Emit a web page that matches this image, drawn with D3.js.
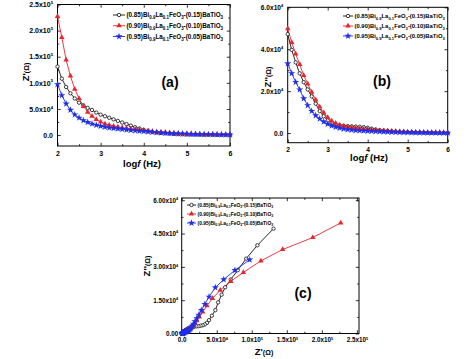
<!DOCTYPE html>
<html><head><meta charset="utf-8">
<script src="https://cdn.jsdelivr.net/npm/d3@7"></script>
<style>
body{margin:0;background:#fff}
svg{display:block}
text{font-family:"Liberation Sans",Arial,sans-serif;font-weight:bold;fill:#000}
</style>
</head><body><svg id="chart" width="474" height="359"></svg>
<script>
// ---------- data ----------
const logf = [2.0,2.1,2.2,2.3,2.4,2.5,2.6,2.7,2.8,2.9,3.0,3.1,3.2,3.3,3.4,3.5,3.6,3.7,3.8,3.9,4.0,
              4.1,4.2,4.3,4.4,4.5,4.6,4.7,4.8,4.9,5.0,5.1,5.2,5.3,5.4,5.5,5.6,5.7,5.8,5.9,6.0];
// Z' in units of 1e5 ohm
const zReal085 = [1.31,1.08,0.92,0.80,0.70,0.62,0.57,0.52,0.48,0.43,0.39,0.36,0.33,0.30,0.27,0.24,0.21,0.18,0.15,0.125,0.10,
                  0.08,0.06,0.048,0.04,0.033,0.027,0.022,0.018,0.015,0.012,0.01,0.008,0.007,0.006,0.005,0.004,0.003,0.003,0.002,0.002];
const zReal090 = [2.27,1.87,1.44,1.13,0.88,0.70,0.55,0.44,0.36,0.30,0.25,0.215,0.19,0.17,0.155,0.14,0.13,0.12,0.11,0.10,0.09,
                  0.08,0.07,0.062,0.055,0.048,0.042,0.037,0.032,0.028,0.025,0.022,0.019,0.017,0.015,0.013,0.011,0.010,0.009,0.008,0.007];
const zReal095 = [0.97,0.76,0.60,0.48,0.39,0.33,0.28,0.245,0.215,0.19,0.17,0.155,0.14,0.13,0.12,0.11,0.10,0.092,0.085,0.078,0.07,
                  0.063,0.056,0.05,0.044,0.039,0.034,0.03,0.026,0.023,0.02,0.018,0.016,0.014,0.012,0.011,0.01,0.009,0.008,0.007,0.006];
// Z'' in units of 1e4 ohm
const zImag085 = [4.72,3.97,3.37,2.85,2.43,2.08,1.75,1.40,1.05,0.80,0.60,0.48,0.41,0.37,0.35,0.33,0.32,0.31,0.30,0.28,0.25,
                  0.21,0.17,0.14,0.12,0.10,0.085,0.072,0.062,0.053,0.045,0.038,0.032,0.027,0.023,0.019,0.016,0.013,0.011,0.009,0.008];
const zImag090 = [4.98,4.32,3.78,3.27,2.75,2.35,1.95,1.58,1.25,0.97,0.75,0.58,0.47,0.39,0.33,0.29,0.26,0.23,0.21,0.19,0.17,
                  0.15,0.14,0.12,0.11,0.10,0.085,0.075,0.065,0.055,0.048,0.042,0.036,0.031,0.027,0.023,0.020,0.017,0.014,0.012,0.010];
const zImag095 = [3.32,2.85,2.43,2.07,1.65,1.32,1.05,0.84,0.68,0.54,0.43,0.35,0.29,0.24,0.20,0.17,0.15,0.13,0.12,0.11,0.10,
                  0.09,0.08,0.072,0.065,0.058,0.05,0.044,0.038,0.033,0.03,0.026,0.023,0.02,0.018,0.016,0.014,0.012,0.01,0.009,0.008];

// legend labels: [text, isSubscript]
const legendLabels = [
  [["(0.85)Bi",0],["0.9",1],["La",0],["0.1",1],["FeO",0],["3",1],["-(0.15)BaTiO",0],["3",1]],
  [["(0.90)Bi",0],["0.9",1],["La",0],["0.1",1],["FeO",0],["3",1],["-(0.10)BaTiO",0],["3",1]],
  [["(0.95)Bi",0],["0.9",1],["La",0],["0.1",1],["FeO",0],["3",1],["-(0.05)BaTiO",0],["3",1]]
];

// tick values and labels: [mantissa, exponent]
const logTicks = [2,3,4,5,6];
const logTickLabels = [["2",""],["3",""],["4",""],["5",""],["6",""]];
const aYTicks = [0,0.5,1.0,1.5,2.0,2.5];
const aYTickLabels = [["0.0",""],["5.0x10","4"],["1.0x10","5"],["1.5x10","5"],["2.0x10","5"],["2.5x10","5"]];
const bYTicks = [0,2,4,6];
const bYTickLabels = [["0.0",""],["2.0x10","4"],["4.0x10","4"],["6.0x10","4"]];
const cXTicks = [0,0.5,1.0,1.5,2.0,2.5];
const cXTickLabels = [["0.0",""],["5.0x10","4"],["1.0x10","5"],["1.5x10","5"],["2.0x10","5"],["2.5x10","5"]];
const cYTicks = [0,1.5,3.0,4.5,6.0];
const cYTickLabels = [["0.00",""],["1.50x10","4"],["3.00x10","4"],["4.50x10","4"],["6.00x10","4"]];

// ---------- styles ----------
const colors = ["#111111","#e8262f","#1f2fe8"];
const symbols = ["circle","triangle","star"];

const svg = d3.select("#chart");

function marker(sel, kind, color, s) {
  if (kind === "circle") {
    sel.append("circle").attr("r", 1.7*s).attr("fill","#fff").attr("stroke",color).attr("stroke-width",0.8);
  } else if (kind === "triangle") {
    sel.append("path").attr("d", d3.symbol(d3.symbolTriangle, 13*s*s)()).attr("fill",color);
  } else {
    sel.append("path").attr("d", d3.symbol(d3.symbolStar, 16*s*s)()).attr("fill",color);
  }
}

function fillSci(textSel, lab, fs) {
  textSel.text(null);
  textSel.append("tspan").text(lab[0]);
  if (lab[1]) textSel.append("tspan").attr("font-size", fs*0.6).attr("dy", -fs*0.45).text(lab[1]);
}

function drawPanel(p) {
  const g = svg.append("g");
  const x = d3.scaleLinear().domain(p.xDom).range([p.L, p.R]);
  const y = d3.scaleLinear().domain(p.yDom).range([p.B, p.T]);

  const styleAxis = a => { a.select(".domain").remove(); a.selectAll(".tick line").attr("stroke","#000").attr("stroke-width",0.8); };

  // minor ticks (all four sides)
  [[d3.axisBottom, p.B, "x"],[d3.axisTop, p.T, "x"],[d3.axisLeft, p.L, "y"],[d3.axisRight, p.R, "y"]].forEach(([fn,pos,ax])=>{
    const sc = ax==="x"? x : y;
    const vals = ax==="x"? p.xMinor : p.yMinor;
    const a = g.append("g").attr("transform", ax==="x" ? `translate(0,${pos})` : `translate(${pos},0)`)
      .call(fn(sc).tickValues(vals).tickSizeInner(-1.8).tickSizeOuter(0).tickFormat(()=>""));
    styleAxis(a);
  });

  // major ticks with labels bottom / left
  const ax = g.append("g").attr("transform",`translate(0,${p.B})`)
    .call(d3.axisBottom(x).tickValues(p.xTicks).tickSizeInner(-3.2).tickSizeOuter(0).tickPadding(p.xPad).tickFormat(()=>""));
  styleAxis(ax);
  ax.attr("font-family",null).attr("font-size",null);
  ax.selectAll(".tick text").attr("font-size",p.fsTick).attr("dy","0.71em").attr("y", p.xPad)
    .each(function(d,i){ fillSci(d3.select(this), p.xLabels[i], p.fsTick); });

  const ay = g.append("g").attr("transform",`translate(${p.L},0)`)
    .call(d3.axisLeft(y).tickValues(p.yTicks).tickSizeInner(-3.2).tickSizeOuter(0).tickPadding(p.yPad).tickFormat(()=>""));
  styleAxis(ay);
  ay.attr("font-family",null).attr("font-size",null);
  ay.selectAll(".tick text").attr("font-size",p.fsTick).attr("x", -p.yPad)
    .each(function(d,i){ fillSci(d3.select(this), p.yLabels[i], p.fsTick); });

  // mirrored major ticks top / right
  const at = g.append("g").attr("transform",`translate(0,${p.T})`)
    .call(d3.axisTop(x).tickValues(p.xTicks).tickSizeInner(-3.2).tickSizeOuter(0).tickFormat(()=>""));
  styleAxis(at);
  const ar = g.append("g").attr("transform",`translate(${p.R},0)`)
    .call(d3.axisRight(y).tickValues(p.yTicks).tickSizeInner(-3.2).tickSizeOuter(0).tickFormat(()=>""));
  styleAxis(ar);

  // frame
  g.append("rect").attr("x",p.L).attr("y",p.T).attr("width",p.R-p.L).attr("height",p.B-p.T)
    .attr("fill","none").attr("stroke","#000").attr("stroke-width",1);

  // series
  const line = d3.line().x(d=>x(d[0])).y(d=>y(d[1]));
  p.series.forEach((s,k)=>{
    const pts = s.xs.map((v,i)=>[v, s.ys[i]]);
    g.append("path").attr("d", line(pts)).attr("fill","none").attr("stroke",colors[k]).attr("stroke-width",0.9);
  });
  p.series.forEach((s,k)=>{
    const pts = s.xs.map((v,i)=>[v, s.ys[i]]);
    pts.forEach(d=>{
      const m = g.append("g").attr("transform",`translate(${x(d[0])},${y(d[1])})`);
      marker(m, symbols[k], colors[k], p.mScale);
    });
  });

  // legend
  legendLabels.forEach((parts,k)=>{
    const ly = p.legY[k];
    g.append("line").attr("x1",p.legX0).attr("x2",p.legX1).attr("y1",ly).attr("y2",ly)
      .attr("stroke",colors[k]).attr("stroke-width",0.9);
    const m = g.append("g").attr("transform",`translate(${(p.legX0+p.legX1)/2},${ly})`);
    marker(m, symbols[k], colors[k], p.mScale);
    const t = g.append("text").attr("x",p.legX1+1.5).attr("y",ly+p.fsLeg*0.35).attr("font-size",p.fsLeg);
    let shifted = false;
    parts.forEach(([str,sub])=>{
      if (sub) { t.append("tspan").attr("font-size",p.fsLeg*0.7).attr("dy", shifted ? 0 : p.fsLeg*0.3).text(str); shifted = true; }
      else { t.append("tspan").attr("dy", shifted ? -p.fsLeg*0.3 : 0).text(str); shifted = false; }
    });
  });

  // axis titles
  const xt = g.append("text").attr("x",p.xTitle[0]).attr("y",p.xTitle[1]).attr("text-anchor","middle").attr("font-size",p.fsTitle);
  p.xTitleParts.forEach(([s,st])=>{ const ts = xt.append("tspan").text(s); if(st==="i") ts.attr("font-style","italic"); if(st==="s") ts.attr("font-size",p.fsTitle*0.75); });
  const yt = g.append("text").attr("transform",`translate(${p.yTitle[0]},${p.yTitle[1]}) rotate(-90)`)
    .attr("text-anchor","middle").attr("font-size",p.fsTitle);
  p.yTitleParts.forEach(([s,st])=>{ const ts = yt.append("tspan").text(s); if(st==="s") ts.attr("font-size",p.fsTitle*0.75); });

  // panel label
  g.append("text").attr("x",p.tag[0]).attr("y",p.tag[1]).attr("text-anchor","middle")
    .attr("font-size",p.fsTag).text(p.tagText);
}

// (a) Z' vs log f
drawPanel({
  L:57.5, R:230, T:4.5, B:146, xDom:[2,6], yDom:[-0.21,2.5],
  xTicks:logTicks, xLabels:logTickLabels, yTicks:aYTicks, yLabels:aYTickLabels,
  xMinor:[2.5,3.5,4.5,5.5], yMinor:[0.25,0.75,1.25,1.75,2.25],
  xPad:5, yPad:4.5, fsTick:7,
  series:[{xs:logf,ys:zReal085},{xs:logf,ys:zReal090},{xs:logf,ys:zReal095}],
  mScale:1, legX0:113, legX1:125, legY:[15,25.7,36.5], fsLeg:6.3,
  xTitle:[142,167], xTitleParts:[["log",""],["f","i"],[" (Hz)",""]],
  yTitle:[29,72], yTitleParts:[["Z'",""],["(Ω)","s"]], fsTitle:9.5,
  tag:[170,87], tagText:"(a)", fsTag:14
});

// (b) Z'' vs log f
drawPanel({
  L:287.7, R:447.7, T:7.3, B:142.7, xDom:[2,6], yDom:[-0.46,6.0],
  xTicks:logTicks, xLabels:logTickLabels, yTicks:bYTicks, yLabels:bYTickLabels,
  xMinor:[2.5,3.5,4.5,5.5], yMinor:[1,3,5],
  xPad:4.5, yPad:4.5, fsTick:6.6,
  series:[{xs:logf,ys:zImag085},{xs:logf,ys:zImag090},{xs:logf,ys:zImag095}],
  mScale:1, legX0:343, legX1:353, legY:[16,26,36], fsLeg:5.9,
  xTitle:[369,161], xTitleParts:[["log",""],["f","i"],[" (Hz)",""]],
  yTitle:[271,77], yTitleParts:[["Z''",""],["(Ω)","s"]], fsTitle:9.5,
  tag:[382,86], tagText:"(b)", fsTag:14
});

// (c) Nyquist Z'' vs Z'
drawPanel({
  L:181.7, R:359, T:198, B:333.5, xDom:[0,2.53], yDom:[0,6.1],
  xTicks:cXTicks, xLabels:cXTickLabels, yTicks:cYTicks, yLabels:cYTickLabels,
  xMinor:[0.25,0.75,1.25,1.75,2.25], yMinor:[0.75,2.25,3.75,5.25],
  xPad:4.5, yPad:3.5, fsTick:6.3,
  series:[{xs:zReal085,ys:zImag085},{xs:zReal090,ys:zImag090},{xs:zReal095,ys:zImag095}],
  mScale:1, legX0:187, legX1:196, legY:[205,214,223], fsLeg:4.95,
  xTitle:[264,355], xTitleParts:[["Z'",""],["(Ω)","s"]],
  yTitle:[150,266], yTitleParts:[["Z''",""],["(Ω)","s"]], fsTitle:9.5,
  tag:[303,298], tagText:"(c)", fsTag:14
});
</script>
</body></html>
